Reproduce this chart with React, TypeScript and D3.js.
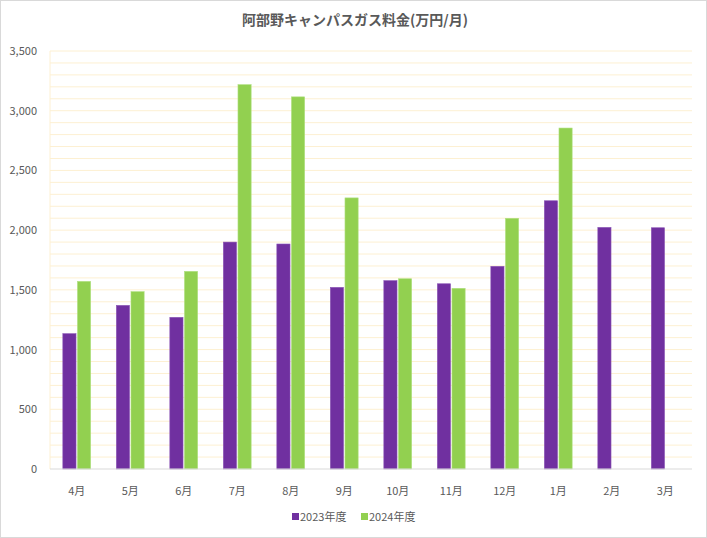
import React from "react";
import * as d3 from "d3";

const months = ["4月", "5月", "6月", "7月", "8月", "9月", "10月", "11月", "12月", "1月", "2月", "3月"];
const series2023 = [1133, 1370, 1270, 1900, 1884, 1521, 1577, 1551, 1697, 2246, 2023, 2020];
const series2024: (number | null)[] = [1571, 1485, 1655, 3218, 3116, 2270, 1593, 1513, 2099, 2855, null, null];
const seriesNames = ["2023年度", "2024年度"];
const seriesColors = ["#7030a0", "#92d050"];
const yTicks = [0, 500, 1000, 1500, 2000, 2500, 3000, 3500];
const title = "阿部野キャンパスガス料金(万円/月)";

const W = 707;
const H = 538;
const left = 50;
const right = 692;
const top = 51;
const bottom = 469;
const font = "'Noto Sans CJK JP', 'Noto Sans', sans-serif";

export default function App() {
  const x = d3.scaleBand<string>().domain(months).range([left, right]).paddingInner(0.48).paddingOuter(0.24);
  const xs = d3.scaleBand<string>().domain(seriesNames).range([0, x.bandwidth()]).paddingInner(0.1);
  const y = d3.scaleLinear().domain([0, 3500]).range([bottom, top]);
  const minor = d3.range(100, 3501, 100);
  const fmt = d3.format(",");
  const data = [series2023, series2024];

  return (
    <div style={{ position: "absolute", left: 0, top: 0 }}>
      <svg width={W} height={H} style={{ display: "block", fontFamily: font }}>
        <rect x={0.5} y={0.5} width={W - 1} height={H - 1} fill="#ffffff" stroke="#d9d9d9" />
        <text x={355} y={25} textAnchor="middle" fontSize={14} fontWeight="bold" fill="#595959">
          {title}
        </text>
        {minor.map((v) => (
          <line key={v} x1={left} x2={right} y1={y(v)} y2={y(v)} stroke="#fdf0d2" strokeWidth={1} />
        ))}
        <line x1={left} x2={left} y1={top} y2={bottom} stroke="#fdf0d2" />
        {yTicks.map((v) => (
          <text key={v} x={37} y={y(v) + 4} textAnchor="end" fontSize={11} fill="#595959">
            {fmt(v)}
          </text>
        ))}
        {data.map((s, si) =>
          s.map((v, i) =>
            v == null ? null : (
              <rect
                key={si + "-" + i}
                x={(x(months[i]) as number) + (xs(seriesNames[si]) as number)}
                y={y(v)}
                width={xs.bandwidth()}
                height={bottom - y(v)}
                fill={seriesColors[si]}
                stroke={si === 0 ? "#8a55b5" : "#b0e080"}
                strokeWidth={0.6}
              />
            )
          )
        )}
        <line x1={left} x2={right} y1={bottom} y2={bottom} stroke="#d9d9d9" />
        {months.map((m) => (
          <text key={m} x={(x(m) as number) + x.bandwidth() / 2} y={495} textAnchor="middle" fontSize={11} fill="#595959">
            {m}
          </text>
        ))}
        <g>
          <rect x={292} y={513} width={7} height={7} fill={seriesColors[0]} />
          <text x={300} y={521} fontSize={11} fill="#595959">{seriesNames[0]}</text>
          <rect x={361} y={513} width={7} height={7} fill={seriesColors[1]} />
          <text x={369} y={521} fontSize={11} fill="#595959">{seriesNames[1]}</text>
        </g>
      </svg>
    </div>
  );
}
